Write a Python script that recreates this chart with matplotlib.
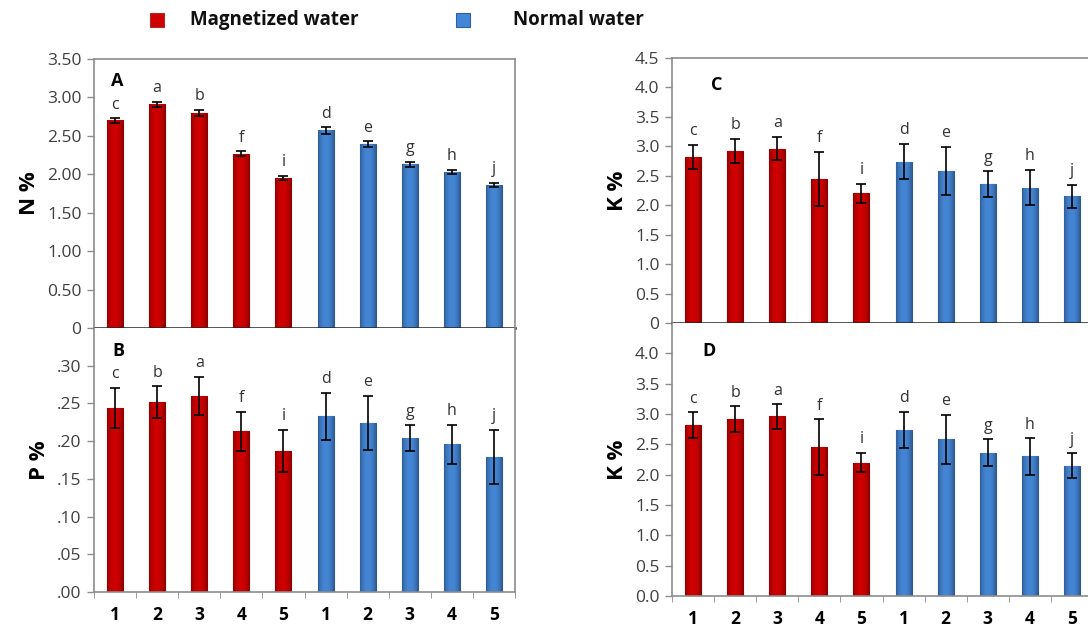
import matplotlib.pyplot as plt
from matplotlib.patches import Rectangle
from matplotlib.colors import to_rgb
import numpy as np

plt.rcParams['font.family'] = ['Open Sans', 'DejaVu Sans']

# 1..5 for magnetized water, then 1..5 for normal water
groups = ['1', '2', '3', '4', '5', '1', '2', '3', '4', '5']

n_vals = [2.70, 2.91, 2.80, 2.27, 1.95, 2.57, 2.39, 2.13, 2.03, 1.86]
n_err = [0.03, 0.03, 0.04, 0.03, 0.03, 0.04, 0.04, 0.03, 0.03, 0.03]
n_letters = ['c', 'a', 'b', 'f', 'i', 'd', 'e', 'g', 'h', 'j']

p_vals = [0.244, 0.252, 0.260, 0.213, 0.187, 0.233, 0.224, 0.204, 0.196, 0.179]
p_err = [0.027, 0.021, 0.025, 0.026, 0.028, 0.031, 0.036, 0.017, 0.026, 0.036]
p_letters = ['c', 'b', 'a', 'f', 'i', 'd', 'e', 'g', 'h', 'j']

k_vals = [2.82, 2.92, 2.96, 2.45, 2.20, 2.74, 2.58, 2.36, 2.30, 2.15]
k_err = [0.21, 0.21, 0.20, 0.46, 0.16, 0.30, 0.41, 0.22, 0.30, 0.20]
k_letters = ['c', 'b', 'a', 'f', 'i', 'd', 'e', 'g', 'h', 'j']

red = '#d00000'
blue = '#4486d6'
colors = [red] * 5 + [blue] * 5
edges = ['#8f0000'] * 5 + ['#2b5a94'] * 5

W, H = 1088, 628
fig = plt.figure(figsize=(W / 100, H / 100), dpi=100)

# light centre, darker sides, like the shaded bars of the original
t = np.linspace(0, 1, 40)
shade = 0.68 + 0.32 * np.sin(np.pi * t) ** 0.7


def px_axes(left, top, right, bottom):
    return fig.add_axes([left / W, 1 - bottom / H, (right - left) / W, (bottom - top) / H])


def panel(ax, vals, errs, letters, ymax, yticks, ylabels, ylabel, tag, tag_xy, bottom_row):
    x = np.arange(len(vals))
    bars = ax.bar(x, vals, width=0.38, color=colors, edgecolor=edges, linewidth=0.8, zorder=2)
    for b, c in zip(bars, colors):
        grad = np.clip(np.outer(shade, to_rgb(c)), 0, 1)[np.newaxis, :, :]
        im = ax.imshow(grad, extent=[b.get_x(), b.get_x() + b.get_width(), 0, b.get_height()],
                       aspect='auto', zorder=2.1, interpolation='bilinear')
        im.set_clip_path(b)
    ax.errorbar(x, vals, yerr=errs, fmt='none', ecolor='black', elinewidth=1.2,
                capsize=3.3, capthick=1.2, zorder=3)
    for xi, v, e, l in zip(x, vals, errs, letters):
        ax.annotate(l, (xi, v + e), xytext=(0, 4), textcoords='offset points',
                    ha='center', va='bottom', fontsize=11.5, color='#333333')
    ax.set_xlim(-0.5, 9.5)
    ax.set_ylim(0, ymax)
    ax.set_yticks(yticks)
    ax.set_yticklabels(ylabels)
    ax.tick_params(axis='y', direction='out', length=5, color='#8c8c8c', width=1,
                   labelsize=12.5, labelcolor='#404040', pad=4)
    for s in ax.spines.values():
        s.set_color('#8c8c8c')
        s.set_linewidth(1.2)
    ax.set_ylabel(ylabel, fontsize=16, fontweight='bold', labelpad=5)
    ax.text(tag_xy[0], tag_xy[1], tag, transform=ax.transAxes, fontsize=13,
            fontweight='bold', ha='center', va='center', color='black')
    if bottom_row:
        ax.spines['top'].set_visible(False)
        ax.set_xticks(x)
        ax.set_xticklabels(groups, fontsize=12.5, fontweight='bold', color='black')
        ax.tick_params(axis='x', which='major', length=0, pad=10)
        ax.set_xticks(np.arange(-0.5, 10, 1), minor=True)
        ax.tick_params(axis='x', which='minor', direction='out', length=4,
                       color='#8c8c8c')
    else:
        ax.set_xticks([])
        ax.spines['bottom'].set_color('#222222')
        ax.spines['bottom'].set_linewidth(1.8)
        ax.spines['bottom'].set_zorder(5)


axA = px_axes(94, 59, 515, 328)
axB = px_axes(94, 328, 515, 592)
axC = px_axes(672, 58, 1093, 323)
axD = px_axes(672, 323, 1093, 596)

panel(axA, n_vals, n_err, n_letters, 3.5, np.arange(0, 3.51, 0.5),
      ['0', '0.50', '1.00', '1.50', '2.00', '2.50', '3.00', '3.50'],
      'N %', 'A', (0.055, 0.918), False)
panel(axB, p_vals, p_err, p_letters, 0.35, np.arange(0, 0.301, 0.05),
      ['.00', '.05', '.10', '.15', '.20', '.25', '.30'],
      'P %', 'B', (0.057, 0.913), True)
panel(axC, k_vals, k_err, k_letters, 4.5, np.arange(0, 4.51, 0.5),
      ['0', '0.5', '1.0', '1.5', '2.0', '2.5', '3.0', '3.5', '4.0', '4.5'],
      'K %', 'C', (0.107, 0.90), False)
panel(axD, k_vals, k_err, k_letters, 4.5, np.arange(0, 4.01, 0.5),
      ['0.0', '0.5', '1.0', '1.5', '2.0', '2.5', '3.0', '3.5', '4.0'],
      'K %', 'D', (0.088, 0.897), True)

# legend along the top
fig.patches.append(Rectangle((150 / W, 1 - 27 / H), 14 / W, 14 / H, transform=fig.transFigure,
                             facecolor=red, edgecolor='#a03030', linewidth=0.8))
fig.text(190 / W, 1 - 20 / H, 'Magnetized water', fontsize=13.5, fontweight='bold',
         ha='left', va='center', color='#111111')
fig.patches.append(Rectangle((456 / W, 1 - 27 / H), 14 / W, 14 / H, transform=fig.transFigure,
                             facecolor=blue, edgecolor='#3060a0', linewidth=0.8))
fig.text(513 / W, 1 - 20 / H, 'Normal water', fontsize=13.5, fontweight='bold',
         ha='left', va='center', color='#111111')

plt.savefig('out.png', dpi=100)
